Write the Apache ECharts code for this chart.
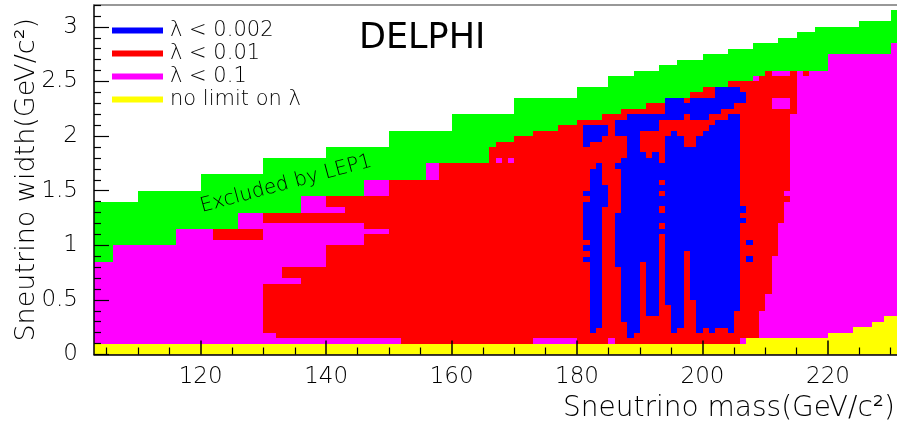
<!DOCTYPE html>
<html>
<head>
<meta charset="utf-8">
<script src="https://cdn.jsdelivr.net/npm/echarts@6/dist/echarts.min.js"></script>
<style>
html,body{margin:0;padding:0;background:#fff;}
#chart{width:897px;height:433px;}
</style>
</head>
<body>
<div id="chart"></div>
<script>
// ---- Data (sneutrino mass in GeV/c^2, width in GeV/c^2) ----
// Excluded by LEP1 (green): [mass from, mass to, width top]
const greenSteps = [
  [103,110,1.40],[110,120,1.50],[120,130,1.65],[130,140,1.80],[140,150,1.90],
  [150,160,2.05],[160,170,2.20],[170,180,2.35],[180,185,2.45],[185,189,2.55],
  [189,193,2.60],[193,196,2.65],[196,200,2.70],[200,204,2.75],[204,208,2.80],
  [208,212,2.85],[212,215,2.90],[215,218,2.95],[218,225,3.00],[225,230,3.05],
  [230,231,3.15]
];
// lambda < 0.1 (magenta) region below the LEP1 band: [mass from, mass to, width top]
const pinkSteps = [
  [103,106,0.85],[106,116,1.00],[116,126,1.15],[126,136,1.30],[136,146,1.45],
  [146,156,1.60],[156,166,1.75],[166,167,1.90],[167,170,1.95],[170,173,2.00],
  [173,177,2.05],[177,180,2.10],[180,184,2.15],[184,187,2.20],[187,191,2.25],
  [191,194,2.30],[194,198,2.35],[198,200,2.40],[200,204,2.45],[204,208,2.50],
  [208,210,2.55],[210,220,2.60],[220,230,2.75],[230,231,2.85]
];
// lambda < 0.01 (red) areas: [mass from, mass to, width from, width to]
const redAreas = [
  [122,130,1.05,1.15],[130,146,0.15,1.30],[140,146,1.30,1.45],[146,150,0.15,1.45],
  [150,152,0.15,1.60],[152,158,0.10,1.60],[158,166,0.10,1.75],[166,167,0.10,1.90],
  [167,170,0.10,1.95],[170,173,0.10,2.00],[173,177,0.10,2.05],[177,180,0.10,2.10],
  [180,184,0.10,2.15],[184,187,0.10,2.20],[187,191,0.10,2.25],[191,194,0.10,2.30],
  [194,198,0.10,2.35],[198,200,0.10,2.40],[200,204,0.10,2.45],[204,208,0.10,2.50],
  [208,210,0.10,2.55],[210,215,0.10,2.60],[216,217,2.55,2.60]
];
// lambda < 0.1 (magenta) patches inside the red area
const pinkPatches = [
  [130,132,0.15,0.20],[130,133,0.65,1.20],[133,136,0.80,1.20],[133,136,0.65,0.70],
  [136,140,0.80,1.20],[140,146,1.00,1.20],[146,150,1.10,1.15],[140,143,1.30,1.35],
  [167,168,1.75,1.80],[169,170,1.75,1.80],[173,180,0.10,0.15],[185,186,0.10,0.15],
  [206,207,0.10,0.15],[209,215,0.10,0.40],[210,215,0.40,0.55],[211,215,0.55,0.90],
  [212,215,0.90,1.20],[213,215,1.20,1.40],[214,215,1.40,1.45],[213,215,1.45,1.50],
  [214,215,1.50,2.20],[211,214,2.25,2.35],[211,214,2.55,2.60],[208,209,2.50,2.55]
];
// lambda < 0.002 (blue) cells, 1 GeV wide: [mass bin start, width from, width to]
const blueCells = [
  [181,0.85,0.89],[181,0.95,1.00],[181,1.05,1.40],[181,1.45,1.50],[181,1.90,2.10],
  [182,0.20,1.70],[182,1.95,2.10],
  [183,0.24,1.75],[183,1.95,2.10],
  [184,1.35,1.55],[184,2.00,2.10],
  [186,0.80,1.30],[186,1.70,1.75],[186,2.00,2.15],
  [187,0.30,1.80],[187,2.00,2.15],
  [188,0.15,2.20],
  [189,0.20,2.20],
  [190,0.85,1.85],[190,2.05,2.20],
  [191,0.35,1.80],[191,2.05,2.20],
  [192,0.35,1.85],[192,2.05,2.20],
  [193,1.10,1.15],[193,1.20,1.30],[193,1.36,1.45],[193,1.50,1.55],[193,1.60,1.75],[193,2.15,2.20],
  [194,0.45,2.00],[194,2.15,2.35],
  [195,0.20,2.05],[195,2.15,2.35],
  [196,0.24,2.00],[196,2.15,2.35],
  [197,0.95,1.90],[197,2.20,2.30],
  [198,0.50,1.90],[198,2.15,2.35],
  [199,0.20,2.00],[199,2.15,2.35],
  [200,0.24,2.05],[200,2.15,2.35],
  [201,0.20,2.10],[201,2.20,2.35],
  [202,0.24,2.15],[202,2.20,2.45],
  [203,0.24,2.15],[203,2.25,2.45],
  [204,0.20,2.20],[204,2.25,2.45],
  [205,0.40,2.20],[205,2.30,2.45],
  [206,1.20,1.25],[206,1.30,1.36],[206,2.30,2.40],
  [207,0.85,0.90],[207,1.00,1.05]
];
// no limit on lambda (yellow): [mass from, mass to, width top]
const yellowSteps = [
  [103,207,0.10],[207,220,0.15],[220,224,0.20],[224,227,0.25],[227,229,0.30],[229,231,0.35]
];
const xTickLabels = [120,140,160,180,200,220];
const xMinorTicks = [105,110,115,125,130,135,145,150,155,165,170,175,185,190,195,205,210,215,225,230];
const yTickLabels = [0,0.5,1,1.5,2,2.5,3];
const yMinorTicks = [0.1,0.2,0.3,0.4,0.6,0.7,0.8,0.9,1.1,1.2,1.3,1.4,1.6,1.7,1.8,1.9,2.1,2.2,2.3,2.4,2.6,2.7,2.8,2.9,3.1,3.2];
const legendNames = ['λ < 0.002','λ < 0.01','λ < 0.1','no limit on λ'];

// ---- Chart ----
const FONT = '"DejaVu Sans", sans-serif';
const FW = 200;
const C = {green:'#00ff00', blue:'#0000ff', red:'#ff0000', pink:'#ff00ff', yellow:'#ffff00'};

function rectItem(params, api) {
  const a = api.coord([api.value(0), api.value(3)]);
  const b = api.coord([api.value(1), api.value(2)]);
  const x0 = Math.round(a[0]), x1 = Math.round(b[0]);
  const y0 = Math.round(a[1]), y1 = Math.round(b[1]);
  return {
    type: 'rect',
    shape: {x: x0, y: y0, width: x1 - x0, height: y1 - y0},
    style: {fill: api.visual('color')}
  };
}
function areaSeries(name, color, data, z) {
  return {
    type: 'custom', name: name, renderItem: rectItem, data: data,
    encode: {x: [0, 1], y: [2, 3]}, itemStyle: {color: color},
    silent: true, clip: true, z: z, animation: false
  };
}
const fromSteps = steps => steps.map(s => [s[0], s[1], 0, s[2]]);
const fromCells = cells => cells.map(c => [c[0], c[0] + 1, c[1], c[2]]);

const axisText = {fontFamily: FONT, fontWeight: FW, fontSize: 23, color: '#000'};

const option = {
  backgroundColor: '#fff',
  animation: false,
  grid: {left: 94, right: 0, top: 5, bottom: 78.5, containLabel: false, outerBoundsMode: 'none'},
  legend: {
    data: [
      {name: legendNames[0], icon: 'rect', itemStyle: {color: C.blue}},
      {name: legendNames[1], icon: 'rect', itemStyle: {color: C.red}},
      {name: legendNames[2], icon: 'rect', itemStyle: {color: C.pink}},
      {name: legendNames[3], icon: 'rect', itemStyle: {color: C.yellow}}
    ],
    orient: 'vertical', left: 112, top: 20, padding: 0, itemWidth: 51, itemHeight: 6, itemGap: 2,
    selectedMode: false, z: 20,
    textStyle: {fontFamily: FONT, fontWeight: FW, fontSize: 21, lineHeight: 20, color: '#000', padding: [0, 0, 0, 2]}
  },
  xAxis: [
    {
      type: 'value', min: 103, max: 231, position: 'bottom', z: 20,
      name: 'Sneutrino mass(GeV/c²)', nameLocation: 'end', nameGap: -2, nameMoveOverlap: false,
      nameTextStyle: {fontFamily: FONT, fontWeight: FW, fontSize: 28, color: '#000', align: 'right', verticalAlign: 'top', padding: [40, 0, 0, 0]},
      axisLine: {lineStyle: {color: '#000', width: 1.5}},
      axisTick: {inside: true, length: 14, customValues: xTickLabels, lineStyle: {color: '#000', width: 1.5}},
      axisLabel: {customValues: xTickLabels, margin: 11, ...axisText},
      splitLine: {show: false}
    },
    {
      type: 'value', min: 103, max: 231, position: 'bottom', z: 20,
      axisLine: {show: false},
      axisTick: {inside: true, length: 7, customValues: xMinorTicks, lineStyle: {color: '#000', width: 1.2}},
      axisLabel: {show: false}, splitLine: {show: false}
    },
    {
      type: 'value', min: 103, max: 231, position: 'top', z: 20,
      axisLine: {lineStyle: {color: '#777', width: 1.5}},
      axisTick: {show: false}, axisLabel: {show: false}, splitLine: {show: false}
    }
  ],
  yAxis: [
    {
      type: 'value', min: 0, max: 3.2, position: 'left', z: 20,
      name: 'Sneutrino width(GeV/c²)', nameLocation: 'middle', nameGap: 54, nameMoveOverlap: false,
      nameTextStyle: {fontFamily: FONT, fontWeight: FW, fontSize: 27, color: '#000'},
      axisLine: {lineStyle: {color: '#000', width: 1.5}},
      axisTick: {inside: true, length: 15, customValues: yTickLabels, lineStyle: {color: '#000', width: 1.2}},
      axisLabel: {customValues: yTickLabels, margin: 16, ...axisText},
      splitLine: {show: false}
    },
    {
      type: 'value', min: 0, max: 3.2, position: 'left', z: 20,
      axisLine: {show: false},
      axisTick: {inside: true, length: 7, customValues: yMinorTicks, lineStyle: {color: '#000', width: 1.2}},
      axisLabel: {show: false}, splitLine: {show: false}
    }
  ],
  graphic: [
    {type: 'text', left: 359, top: 21, z: 30, silent: true,
     style: {text: 'DELPHI', fontFamily: FONT, fontSize: 35, fill: '#000'}},
    {type: 'text', x: 286, y: 184, rotation: 15 * Math.PI / 180, z: 30, silent: true,
     style: {text: 'Excluded by LEP1', fontFamily: FONT, fontWeight: FW, fontSize: 20, fill: '#000', align: 'center', verticalAlign: 'middle'}}
  ],
  series: [
    areaSeries('Excluded by LEP1', C.green, fromSteps(greenSteps), 2),
    areaSeries(legendNames[2], C.pink, fromSteps(pinkSteps), 3),
    areaSeries(legendNames[1], C.red, redAreas, 4),
    areaSeries(legendNames[2], C.pink, pinkPatches, 5),
    areaSeries(legendNames[0], C.blue, fromCells(blueCells), 6),
    areaSeries(legendNames[3], C.yellow, fromSteps(yellowSteps), 7)
  ]
};

const chart = echarts.init(document.getElementById('chart'), null, {renderer: 'canvas'});
chart.setOption(option);
</script>
</body>
</html>
